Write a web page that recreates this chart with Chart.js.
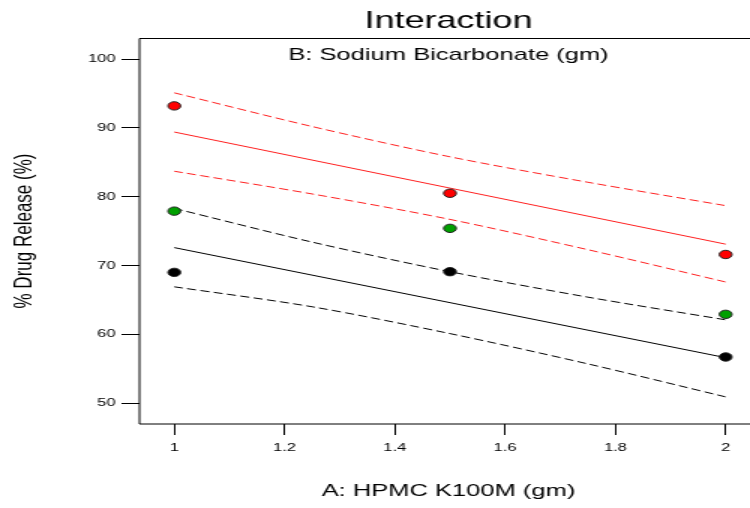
<!DOCTYPE html>
<html><head><meta charset="utf-8">
<script src="https://cdn.jsdelivr.net/npm/chart.js@4.4.1/dist/chart.umd.min.js"></script>
<style>
html,body{margin:0;padding:0;background:#fff;overflow:hidden;width:750px;height:508px}
#wrap{position:absolute;left:0;top:0;width:500px;height:508px;transform:scaleX(1.5);transform-origin:0 0}
canvas{display:block}
</style></head><body>
<div id="wrap"><canvas id="c" width="500" height="508"></canvas></div>
<script>
// ---- data ----
const xLevels = [1, 1.5, 2];
const xTickValues = [1, 1.2, 1.4, 1.6, 1.8, 2];
const yTickValues = [50, 60, 70, 80, 90, 100];
const redPoints = [93.2, 80.5, 71.6];
const greenPoints = [77.9, 75.4, 62.9];
const blackPoints = [69.0, 69.1, 56.7];
const fitX = [1, 2];
const redFit = [89.4, 73.1];
const blackFit = [72.6, 56.6];
const bandX = [1, 1.25, 1.5, 1.75, 2];
const redUpper = [95.1, 90.2, 85.8, 82.1, 78.7];
const redLower = [83.7, 80.4, 76.7, 72.3, 67.6];
const blackUpper = [78.3, 73.4, 69.1, 65.4, 62.1];
const blackLower = [66.9, 64.0, 60.1, 55.7, 50.9];

const titleText = 'Interaction';
const subTitleText = 'B: Sodium Bicarbonate (gm)';
const xTitleText = 'A: HPMC K100M (gm)';
const yTitleText = '% Drug Release (%)';

const pts = (xs, ys) => xs.map((x, i) => ({x: x, y: ys[i]}));
const FONT = "'Liberation Sans', Arial, sans-serif";
const AREA_RIGHT = 505;

function lineDs(xs, ys, color, dashed) {
  return {data: pts(xs, ys), showLine: true, borderColor: color, borderWidth: 1,
    borderDash: dashed ? [6, 3] : [], pointRadius: 0, tension: dashed ? 0.3 : 0,
    fill: false, order: 2};
}
function pointDs(ys, color) {
  return {data: pts(xLevels, ys), showLine: false, backgroundColor: color,
    borderColor: '#222', borderWidth: 1, pointRadius: 4.2, order: 0};
}

const framePlugin = {
  id: 'frame',
  afterLayout(chart) {
    const s = chart.scales.x;
    s.right = AREA_RIGHT;
    s.width = s.right - s.left;
    s.configure();
    chart.chartArea.right = AREA_RIGHT;
    chart.chartArea.width = AREA_RIGHT - chart.chartArea.left;
    if (chart.titleBlock) {
      chart.titleBlock.left = chart.chartArea.left;
      chart.titleBlock.right = AREA_RIGHT;
      chart.titleBlock.width = AREA_RIGHT - chart.chartArea.left;
    }
  },
  afterDraw(chart) {
    const {ctx, chartArea: a} = chart;
    ctx.save();
    ctx.strokeStyle = '#000';
    ctx.lineWidth = 1;
    ctx.beginPath();
    ctx.moveTo(a.right + 10, a.top + 0.5);
    ctx.lineTo(a.left, a.top + 0.5);
    ctx.lineTo(a.left, a.bottom);
    ctx.lineTo(a.right + 10, a.bottom);
    ctx.stroke();
    ctx.fillStyle = '#000';
    ctx.font = '17px ' + FONT;
    ctx.textAlign = 'center';
    ctx.textBaseline = 'alphabetic';
    ctx.fillText(subTitleText, (a.left + a.right) / 2, a.top + 21.5);
    ctx.restore();
  }
};

new Chart(document.getElementById('c'), {
  type: 'scatter',
  data: {datasets: [
    lineDs(fitX, redFit, '#ff2020', false),
    lineDs(bandX, redUpper, '#ff2020', true),
    lineDs(bandX, redLower, '#ff2020', true),
    lineDs(fitX, blackFit, '#000', false),
    lineDs(bandX, blackUpper, '#000', true),
    lineDs(bandX, blackLower, '#000', true),
    pointDs(redPoints, '#ff0000'),
    pointDs(greenPoints, '#00a000'),
    pointDs(blackPoints, '#000000')
  ]},
  plugins: [framePlugin],
  options: {
    responsive: false,
    animation: false,
    devicePixelRatio: 1,
    layout: {padding: {left: 0, right: 0, top: 0, bottom: 0}},
    plugins: {
      legend: {display: false},
      tooltip: {enabled: false},
      title: {display: true, text: titleText, fullSize: false, color: '#000',
        font: {family: FONT, size: 24, weight: 'normal'}, padding: {top: 7, bottom: 2.2}}
    },
    scales: {
      x: {
        type: 'linear', min: 0.9369, max: 2.0577,
        afterBuildTicks: s => { s.ticks = xTickValues.map(v => ({value: v})); },
        afterFit: s => { s.height = 84; },
        grid: {display: true, drawOnChartArea: false, drawTicks: true, tickLength: 11, color: '#000'},
        border: {display: false},
        ticks: {color: '#000', padding: 6, font: {family: FONT, size: 11}, maxRotation: 0,
          callback: v => String(v)},
        title: {display: true, text: xTitleText, color: '#000', align: 'center',
          font: {family: FONT, size: 17}, padding: {top: 0, bottom: 6.8}}
      },
      y: {
        type: 'linear', min: 46.96, max: 103.07,
        afterBuildTicks: s => { s.ticks = yTickValues.map(v => ({value: v})); },
        afterFit: s => { s.width = 93; },
        grid: {display: true, drawOnChartArea: false, drawTicks: true, tickLength: 12, color: '#000'},
        border: {display: false},
        ticks: {color: '#000', padding: 4, font: {family: FONT, size: 11},
          callback: v => String(v)},
        title: {display: true, text: yTitleText, color: '#000',
          font: {family: FONT, size: 17}, padding: {top: 6.5, bottom: 0}}
      }
    }
  }
});
</script>
</body></html>
